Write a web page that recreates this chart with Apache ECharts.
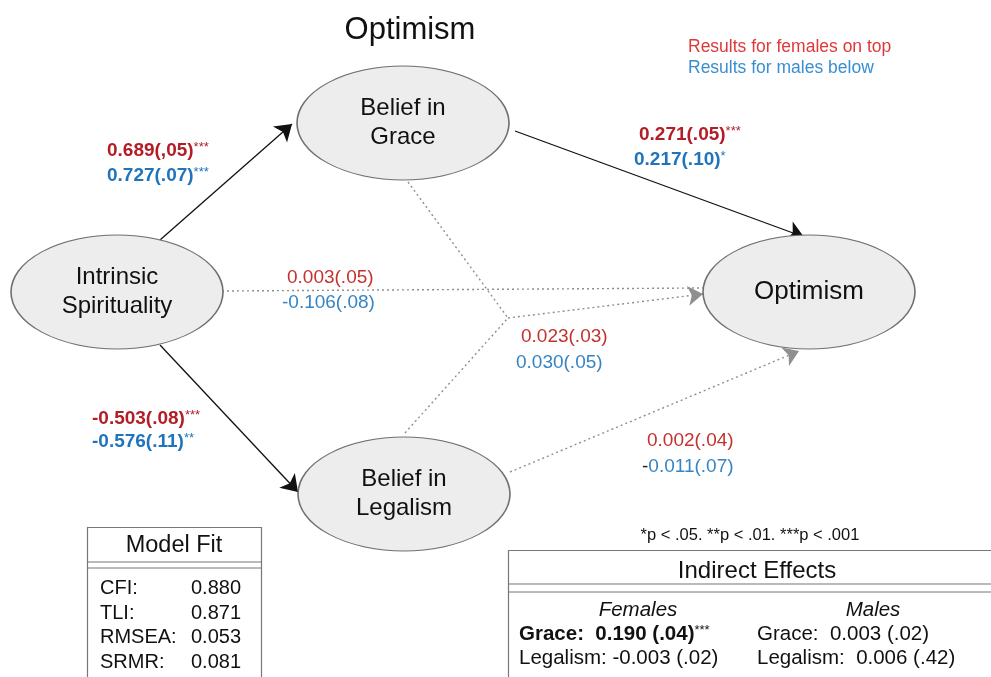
<!DOCTYPE html>
<html>
<head>
<meta charset="utf-8">
<script src="https://cdn.jsdelivr.net/npm/echarts@6/dist/echarts.min.js"></script>
<style>
  html, body { margin: 0; padding: 0; background: #fff; }
  #main { width: 991px; height: 677px; }
</style>
</head>
<body>
<div id="main"></div>
<script>
// 数据
var nodeNames = ['Intrinsic\nSpirituality', 'Belief in\nGrace', 'Belief in\nLegalism', 'Optimism'];
// path coefficients: females on top, males below
var pathFemales = ['0.689(,05)', '-0.503(.08)', '0.271(.05)', '0.003(.05)', '0.023(.03)', '0.002(.04)'];
var pathFemaleStars = ['***', '***', '***', '', '', ''];
var pathMales = ['0.727(.07)', '-0.576(.11)', '0.217(.10)', '-0.106(.08)', '0.030(.05)', '-0.011(.07)'];
var pathMaleStars = ['***', '**', '*', '', '', ''];
var pathSignificant = [true, true, true, false, false, false];

var fitNames = ['CFI:', 'TLI:', 'RMSEA:', 'SRMR:'];
var fitValues = ['0.880', '0.871', '0.053', '0.081'];

var indirectNames = ['Grace:', 'Legalism:'];
var indirectFemales = ['0.190 (.04)', '-0.003 (.02)'];
var indirectFemaleStars = ['***', ''];
var indirectMales = ['0.003 (.02)', '0.006 (.42)'];

// 布局 (pixel space of the grid)
var nodePos = [[117, 292], [403, 123], [404, 494], [809, 292]];
var nodeSize = [212, 114];
var nodeFont = [24, 24, 24, 26];
// edges: from point, to point
var edgeLayout = [
  { c: [[160, 240], [292, 124]], solid: true, arrow: true },
  { c: [[160, 345], [298, 492]], solid: true, arrow: true },
  { c: [[515, 131], [804, 237]], solid: true, arrow: true },
  { c: [[222, 291], [703, 288]], solid: false, arrow: false },
  { c: [[408, 182], [508, 318]], solid: false, arrow: false },
  { c: [[405, 433], [508, 318]], solid: false, arrow: false },
  { c: [[508, 318], [703, 294]], solid: false, arrow: true },
  { c: [[510, 472], [799, 351]], solid: false, arrow: true }
];
// label positions for each path (female x, female y, male y, male x)
var labelPos = [
  [107, 151, 176, 107],
  [92, 419, 442, 92],
  [639, 135, 160, 634],
  [287, 278, 303, 282],
  [521, 337, 363, 516],
  [647, 441, 467, 642]
];

var FONT = '"Liberation Sans", Arial, sans-serif';
var RED_B = '#b31d26', BLUE_B = '#1f74bb';
var RED = '#c3322f', BLUE = '#3585c5';

var dom = document.getElementById('main');
var myChart = echarts.init(dom);

var nodeData = [];
for (var i = 0; i < nodeNames.length; i++) {
  nodeData.push({ name: nodeNames[i], value: nodePos[i], label: { fontSize: nodeFont[i] } });
}

var solidLines = [], arrowDotted = [], plainDotted = [];
for (var i = 0; i < edgeLayout.length; i++) {
  var e = edgeLayout[i];
  if (e.solid) solidLines.push({ coords: e.c });
  else if (e.arrow) arrowDotted.push({ coords: e.c });
  else plainDotted.push({ coords: e.c });
}

var graphics = [];
function txt(x, y, rich, text, align, extra) {
  var g = {
    type: 'text', x: x, y: y, silent: true, z: 10,
    style: {
      text: text, rich: rich, fontSize: 19,
      fontFamily: FONT, align: align || 'left', verticalAlign: 'middle', fill: '#111'
    }
  };
  if (extra) for (var k in extra) g.style[k] = extra[k];
  graphics.push(g);
}

// title and legend
txt(410, 30, null, 'Optimism', 'center', { fontSize: 31 });
txt(688, 47, null, 'Results for females on top', 'left', { fontSize: 17.5, fill: '#e0383a' });
txt(688, 68, null, 'Results for males below', 'left', { fontSize: 17.5, fill: '#3a8ed0' });

// path labels
for (var i = 0; i < pathFemales.length; i++) {
  var p = labelPos[i];
  var bold = pathSignificant[i];
  var w = bold ? 'bold' : 'normal';
  var rc = bold ? RED_B : RED, bc = bold ? BLUE_B : BLUE;
  var rich = {
    r: { fontSize: 19, fontWeight: w, fill: rc, fontFamily: FONT },
    rs: { fontSize: 13, fill: rc, fontFamily: FONT, verticalAlign: 'top', padding: [0, 0, 8, 0] },
    b: { fontSize: 19, fontWeight: w, fill: bc, fontFamily: FONT },
    bs: { fontSize: 13, fill: bc, fontFamily: FONT, verticalAlign: 'top', padding: [0, 0, 8, 0] },
    k: { fontSize: 19, fill: '#222', fontFamily: FONT }
  };
  var ft = '{r|' + pathFemales[i] + '}' + (pathFemaleStars[i] ? '{rs|' + pathFemaleStars[i] + '}' : '');
  var mv = pathMales[i];
  var mt;
  if (i === 5 && mv.charAt(0) === '-') mt = '{k|-}{b|' + mv.slice(1) + '}';
  else mt = '{b|' + mv + '}';
  if (pathMaleStars[i]) mt += '{bs|' + pathMaleStars[i] + '}';
  txt(p[0], p[1], rich, ft, 'left');
  txt(p[3], p[2], rich, mt, 'left');
}

// footnote
txt(750, 535, null, '*p < .05. **p < .01. ***p < .001', 'center', { fontSize: 16.5 });

// Model Fit box
graphics.push({ type: 'rect', shape: { x: 87.5, y: 527.5, width: 174, height: 170 },
  style: { fill: '#fff', stroke: '#777', lineWidth: 1.2 }, silent: true, z: 1 });
graphics.push({ type: 'line', shape: { x1: 87, y1: 562, x2: 261, y2: 562 }, style: { stroke: '#777', lineWidth: 1.2 }, z: 2 });
graphics.push({ type: 'line', shape: { x1: 87, y1: 568, x2: 261, y2: 568 }, style: { stroke: '#777', lineWidth: 1.2 }, z: 2 });
txt(174, 546, null, 'Model Fit', 'center', { fontSize: 23.5 });
var fitY = [588, 613, 637, 662];
for (var i = 0; i < fitNames.length; i++) {
  txt(100, fitY[i], null, fitNames[i], 'left', { fontSize: 20 });
  txt(191, fitY[i], null, fitValues[i], 'left', { fontSize: 20 });
}

// Indirect Effects box
graphics.push({ type: 'rect', shape: { x: 508.5, y: 550.5, width: 490, height: 150 },
  style: { fill: '#fff', stroke: '#777', lineWidth: 1.2 }, silent: true, z: 1 });
graphics.push({ type: 'line', shape: { x1: 508, y1: 584, x2: 991, y2: 584 }, style: { stroke: '#777', lineWidth: 1.2 }, z: 2 });
graphics.push({ type: 'line', shape: { x1: 508, y1: 592, x2: 991, y2: 592 }, style: { stroke: '#777', lineWidth: 1.2 }, z: 2 });
txt(757, 571, null, 'Indirect Effects', 'center', { fontSize: 24 });
txt(638, 610, null, 'Females', 'center', { fontSize: 20.5, fontStyle: 'italic' });
txt(873, 610, null, 'Males', 'center', { fontSize: 20.5, fontStyle: 'italic' });
var indY = [634, 658];
for (var i = 0; i < indirectNames.length; i++) {
  var star = indirectFemaleStars[i];
  var richI = {
    n: { fontSize: 20.5, fontFamily: FONT, fill: '#111', fontWeight: star ? 'bold' : 'normal' },
    s: { fontSize: 13, fontFamily: FONT, fill: '#111', verticalAlign: 'top', padding: [0, 0, 8, 0] }
  };
  var sep = star ? '  ' : ' ';
  txt(519, indY[i], richI, '{n|' + indirectNames[i] + sep + indirectFemales[i] + '}' + (star ? '{s|' + star + '}' : ''), 'left');
  txt(757, indY[i], null, indirectNames[i] + '  ' + indirectMales[i], 'left', { fontSize: 20.5 });
}

var option = {
  animation: false,
  backgroundColor: '#fff',
  grid: { left: 0, right: 0, top: 0, bottom: 0 },
  xAxis: { type: 'value', min: 0, max: 991, show: false },
  yAxis: { type: 'value', min: 0, max: 677, inverse: true, show: false },
  series: [
    {
      type: 'lines', coordinateSystem: 'cartesian2d', z: 2,
      symbol: ['none', 'arrow'], symbolSize: 16,
      lineStyle: { color: '#111', width: 1.3, opacity: 1 },
      data: solidLines
    },
    {
      type: 'lines', coordinateSystem: 'cartesian2d', z: 2,
      symbol: ['none', 'arrow'], symbolSize: 15,
      lineStyle: { color: '#8f8f8f', width: 1.4, type: [2, 3], opacity: 1 },
      itemStyle: { color: '#666' },
      data: arrowDotted
    },
    {
      type: 'lines', coordinateSystem: 'cartesian2d', z: 2,
      symbol: ['none', 'none'],
      lineStyle: { color: '#8f8f8f', width: 1.4, type: [2, 3], opacity: 1 },
      data: plainDotted
    },
    {
      type: 'scatter', z: 3,
      symbol: 'circle', symbolSize: nodeSize,
      itemStyle: { color: '#ededed', borderColor: '#707070', borderWidth: 1.2, opacity: 1 },
      label: {
        show: true, position: 'inside', formatter: '{b}',
        fontFamily: FONT, fontSize: 24, lineHeight: 29, color: '#111'
      },
      emphasis: { disabled: true },
      data: nodeData
    }
  ],
  graphic: graphics
};

myChart.setOption(option);

window.onresize = myChart.resize;
</script>
</body>
</html>
